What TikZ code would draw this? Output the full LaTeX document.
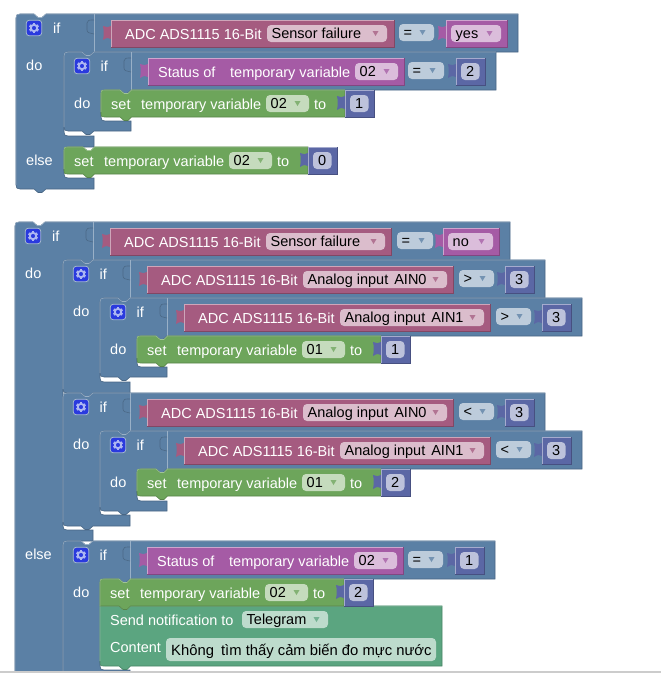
\documentclass[tikz,border=0pt]{standalone}
\usepackage{fontspec}
\setmainfont{Liberation Sans}
\usepackage{xcolor}
\usetikzlibrary{calc}
\definecolor{logicblue}{HTML}{5B80A5}
\definecolor{mathblue}{HTML}{5B67A5}
\definecolor{adcpink}{HTML}{A55B80}
\definecolor{varpurple}{HTML}{A55BA5}
\definecolor{setgreen}{HTML}{6DA55B}
\definecolor{sendgreen}{HTML}{5BA580}
\definecolor{gearblue}{HTML}{2A3ADE}
\definecolor{gearpale}{HTML}{AEB8F2}
\tikzset{
  ifbody/.style={fill=logicblue, draw=logicblue!80!black, line width=0.6pt},
  ifedge/.style={draw=logicblue!62!white, line width=0.6pt},
  ifnotch/.style={draw=logicblue!82!black, line width=0.6pt},
  blocktxt/.style={font=\fontsize{14.5}{16}\selectfont, text=white, anchor=base west, inner sep=0pt},
  fieldtxt/.style={font=\fontsize{14.5}{16}\selectfont, text=black, anchor=base west, inner sep=0pt},
  numtxt/.style={font=\fontsize{14.5}{16}\selectfont, text=black, anchor=base, inner sep=0pt},
  gearbox/.style={draw=logicblue!55!white, fill=gearblue, rounded corners=3pt, minimum size=15.5pt, inner sep=0pt, line width=0.8pt}
}
% pieces of the C-shaped block outline
\newcommand{\headpath}[5]{(#1,#2+4) .. controls (#1,#2+1) and (#1+1,#2) .. (#1+4,#2) -- (#1+18,#2) -- (#1+22,#2+3.5) -- (#1+26,#2+3.5) -- (#1+30,#2) -- (#3,#2) -- (#3,#4) -- (#5+30,#4) -- (#5+26,#4+3.5) -- (#5+22,#4+3.5) -- (#5+18,#4) -- (#5+4,#4) .. controls (#5+1,#4) and (#5,#4+1) .. (#5,#4+4)}
\newcommand{\slotpath}[3]{-- (#1,#2-4) .. controls (#1,#2-1) and (#1+1,#2) .. (#1+4,#2) -- (#1+30,#2) -- (#1+30,#3)}
\newcommand{\reopen}[2]{-- (#1+4,#2) .. controls (#1+1,#2) and (#1,#2+1) .. (#1,#2+4)}
\newcommand{\footpath}[2]{-- (#1+30,#2) -- (#1+26,#2+3.5) -- (#1+22,#2+3.5) -- (#1+18,#2) -- (#1+4,#2) .. controls (#1+1,#2) and (#1,#2-1) .. (#1,#2-4) -- cycle}
% x, top, right, header bottom, slot x, bottom of the outline
\newcommand{\ifedges}[6]{
    \draw[ifedge] (#1,#6-4) -- (#1,#2+4) .. controls (#1,#2+1) and (#1+1,#2) .. (#1+4,#2) -- (#1+18,#2) -- (#1+22,#2+3.5) -- (#1+26,#2+3.5) -- (#1+30,#2) -- (#3,#2);
    \draw[ifedge] (#5+30,#2) -- (#5+30,#4);
    \draw[ifnotch] (#5+30,#2+6) .. controls (#5+25,#2+6) and (#5+23,#2+6) .. (#5+23,#2+9) -- (#5+23,#2+16) .. controls (#5+23,#2+19) and (#5+26,#2+19) .. (#5+30,#2+20);
}
\newcommand{\ifblock}[7]{
    \draw[ifbody] \headpath{#1}{#2}{#3}{#4}{#5} \slotpath{#5}{#6}{#7} \footpath{#1}{#7};
    \ifedges{#1}{#2}{#3}{#4}{#5}{#7}
}
\newcommand{\gearicon}[3]{
    \node[gearbox] (#1) at (#2,#3) {};
    \foreach \ang in {30,90,...,330}
      \draw[gearpale, line width=2.4pt] (#2,#3) +(\ang:3.5) -- +(\ang:5);
    \draw[gearpale, line width=1.9pt] (#2,#3) circle (3.2);
}
\newcommand{\lbl}[4]{\node[blocktxt] (#1) at (#2,#3+5) {#4};}
\newcommand{\fld}[6]{
    \fill[#6!40!white, rounded corners=4pt] (#2,#4-8.5) rectangle (#3,#4+8.5);
    \node[fieldtxt] (#1) at (#2+4.5,#4+5) {#5};
}
\newcommand{\drop}[6]{
    \fld{#1}{#2}{#3}{#4}{#5}{#6}
    \fill[#6!85!white] (#3-14.5,#4-2.5) -- (#3-8.5,#4-2.5) -- (#3-11.5,#4+2.5) -- cycle;
}
\newcommand{\valblk}[5]{
    \fill[#5] (#2,#3) -- (#4,#3) -- (#4,#3+27) -- (#2,#3+27) -- (#2,#3+19) .. controls (#2-2,#3+17) and (#2-5,#3+18) .. (#2-8,#3+20) .. controls (#2-7,#3+15) and (#2-7,#3+10) .. (#2-8,#3+6) .. controls (#2-5,#3+7) and (#2-2,#3+8) .. (#2,#3+6) -- cycle;
    \draw[#5!78!black, line width=0.6pt] (#2,#3+27) -- (#4,#3+27) -- (#4,#3);
    \draw[#5!55!white, line width=0.6pt] (#2,#3+27) -- (#2,#3) -- (#4,#3);
    \coordinate (#1) at (#2,#3);
}
\newcommand{\numblk}[4]{
    \valblk{#1}{#2}{#3}{#2+29}{mathblue}
    \fill[mathblue!40!white, rounded corners=4pt] (#2+5,#3+5) rectangle (#2+23.5,#3+22);
    \node[numtxt] (#1txt) at (#2+14.2,#3+18.5) {#4};
}
% x, top, right, height, colour, top corner, bottom corner
\newcommand{\stmtblk}[7]{
    \draw[fill=#5, draw=#5!80!black, line width=0.6pt] (#1,#2+#6) .. controls (#1,#2) .. (#1+#6,#2) -- (#1+19,#2) -- (#1+23,#2+3.5) -- (#1+27,#2+3.5) -- (#1+30.5,#2) -- (#3,#2) -- (#3,#2+#4) -- (#1+30.5,#2+#4) -- (#1+27,#2+#4+3.5) -- (#1+23,#2+#4+3.5) -- (#1+19,#2+#4) -- (#1+#7,#2+#4) .. controls (#1,#2+#4) .. (#1,#2+#4-#7) -- cycle;
    \draw[#5!65!white, line width=0.6pt] (#1,#2+#4-#7) -- (#1,#2+#6) .. controls (#1,#2) .. (#1+#6,#2) -- (#1+19,#2) -- (#1+23,#2+3.5) -- (#1+27,#2+3.5) -- (#1+30.5,#2) -- (#3,#2);
}
% set block with its variable field and number
\newcommand{\setrow}[6]{
    \stmtblk{#2}{#3}{#2+244}{27}{setgreen}{5}{#6}
    \lbl{#1set}{#2+10}{#3+14}{set}
    \lbl{#1var}{#2+40}{#3+14}{temporary variable}
    \drop{#1fld}{#2+165}{#2+208}{#3+13.5}{#4}{setgreen}
    \lbl{#1to}{#2+213}{#3+14}{to}
    \numblk{#1num}{#2+244}{#3}{#5}
}
% if header: gear, word and do
\newcommand{\ifhead}[4]{
    \gearicon{#1gear}{#2+18}{#3+14}
    \lbl{#1if}{#2+36.5}{#3+14}{if}
    \lbl{#1do}{#2+#4}{#3+51}{do}
}
% compare row on an analog input
\newcommand{\adcrow}[6]{
    \valblk{#1val}{#2}{#3}{#2+306}{adcpink}
    \lbl{#1adc}{#2+14}{#3+14}{ADC ADS1115 16-Bit}
    \drop{#1fld}{#2+156}{#2+300}{#3+13.5}{Analog input\hspace{2pt} #4}{adcpink}
    \drop{#1op}{#2+312}{#2+347}{#3+12.5}{#5}{logicblue}
    \numblk{#1num}{#2+358}{#3}{#6}
}

\begin{document}
\begin{tikzpicture}[x=1pt, y=-1pt]
    \useasboundingbox (0,0) rectangle (661,675);
    \begin{scope}
    \clip (0,0) rectangle (661,671);
    % First block
    \draw[ifbody] \headpath{16}{14}{518}{52}{64} \slotpath{64}{136}{147} \reopen{64}{147} \slotpath{64}{178}{189} \footpath{16}{189};
    \ifedges{16}{14}{518}{52}{64}{189}
    \gearicon{agear}{34}{28}
    \lbl{aif}{53}{28}{if}
    \lbl{ado}{26}{65}{do}
    \lbl{aelse}{26}{160}{else}
    \valblk{afail}{111}{20}{394}{adcpink}
    \lbl{aadc}{125}{34}{ADC ADS1115 16-Bit}
    \drop{asens}{267}{387}{33.5}{Sensor failure}{adcpink}
    \drop{aop}{399}{434}{32.5}{=}{logicblue}
    \valblk{ayes}{446}{20}{507}{varpurple}
    \drop{ayesf}{451}{501}{33.5}{yes}{varpurple}
    % First block, inner if
    \ifblock{64}{52}{496}{90}{101}{121}{131}
    \ifhead{b}{64}{52}{10}
    \valblk{bstat}{148}{58}{404}{varpurple}
    \lbl{bof}{158}{72}{Status of}
    \lbl{bvar}{230}{72}{temporary variable}
    \drop{bfld}{355}{398}{71.5}{02}{varpurple}
    \drop{bop}{408}{444}{70.5}{=}{logicblue}
    \numblk{bnum}{456}{58}{2}
    \setrow{c}{101}{90}{02}{1}{5}
    \setrow{d}{64}{147}{02}{0}{5}
    % Second block
    \draw[ifbody] \headpath{15}{222}{510}{260}{63} \slotpath{63}{530}{541} \reopen{63}{541} \slotpath{63}{685}{696} \footpath{15}{696};
    \ifedges{15}{222}{510}{260}{63}{696}
    \gearicon{egear}{33}{236}
    \lbl{eif}{52}{236}{if}
    \lbl{edo}{25}{273}{do}
    \lbl{eelse}{25}{554}{else}
    \valblk{efail}{110}{228}{391}{adcpink}
    \lbl{eadc}{124}{242}{ADC ADS1115 16-Bit}
    \drop{esens}{266}{385}{241.5}{Sensor failure}{adcpink}
    \drop{eop}{397}{433}{240.5}{=}{logicblue}
    \valblk{eno}{443}{228}{499}{varpurple}
    \drop{enof}{448}{493}{241.5}{no}{varpurple}
    % Second block, greater than
    \ifblock{63}{260}{545}{298}{100}{382}{393}
    \ifhead{f}{63}{260}{10}
    \adcrow{f}{147}{266}{AIN0}{>}{3}
    \ifblock{100}{298}{582}{336}{137}{367}{377}
    \ifhead{g}{100}{298}{10}
    \adcrow{g}{184}{304}{AIN1}{>}{3}
    \setrow{h}{137}{336}{01}{1}{5}
    % Second block, less than
    \ifblock{63}{393}{545}{431}{100}{515}{526}
    \ifhead{i}{63}{393}{10}
    \adcrow{i}{147}{399}{AIN0}{<}{3}
    \ifblock{100}{431}{582}{469}{137}{501}{511}
    \ifhead{j}{100}{431}{10}
    \adcrow{j}{184}{437}{AIN1}{<}{3}
    \setrow{k}{137}{469}{01}{2}{5}
    % Second block, else branch
    \ifblock{63}{541}{495}{579}{100}{670}{681}
    \ifhead{l}{63}{541}{10}
    \valblk{lstat}{147}{547}{403}{varpurple}
    \lbl{lof}{157}{561}{Status of}
    \lbl{lvar}{229}{561}{temporary variable}
    \drop{lfld}{354}{397}{560.5}{02}{varpurple}
    \drop{lop}{408}{443}{559.5}{=}{logicblue}
    \numblk{lnum}{455}{547}{1}
    % Notification under the set block
    \stmtblk{100}{606}{442}{60}{sendgreen}{0.1}{5}
    \lbl{msend}{110}{620}{Send notification to}
    \drop{mtele}{242}{328}{619.5}{Telegram}{sendgreen}
    \lbl{mcont}{110}{647}{Content}
    \fill[sendgreen!40!white, rounded corners=4pt] (166,638) rectangle (436,661);
    \node[fieldtxt, font=\fontsize{14.8}{16}\selectfont] (mtext) at (171,655) {Không\hspace{3pt} tìm thấy cảm biến đo mực nước};
    \setrow{n}{100}{579}{02}{2}{0.1}
    \end{scope}
    % Edge of the page
    \draw[black!20, line width=1.2pt] (0,672) -- (661,672);
\end{tikzpicture}
\end{document}
